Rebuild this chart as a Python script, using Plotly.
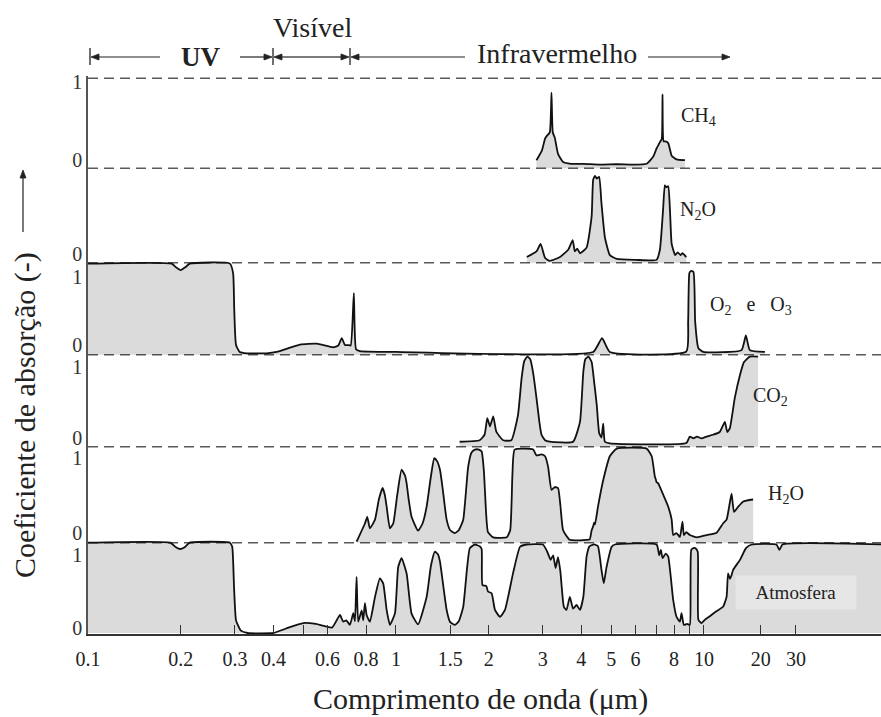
import math
import plotly.graph_objects as go

# ---------------- data: (wavelength in µm, absorption coefficient 0..1) ----------------
CH4 = [(2.86, 0.09), (2.98, 0.20), (3.05, 0.33), (3.09, 0.36), (3.16, 0.40), (3.20, 0.84),
       (3.23, 0.40), (3.28, 0.34), (3.36, 0.16), (3.49, 0.07), (3.70, 0.05), (4.06, 0.05),
       (4.59, 0.04), (5.21, 0.045), (5.90, 0.04), (6.52, 0.05), (6.85, 0.13), (7.02, 0.22),
       (7.20, 0.29), (7.30, 0.33), (7.34, 0.82), (7.40, 0.30), (7.50, 0.30), (7.66, 0.28),
       (7.86, 0.14), (8.15, 0.10), (8.68, 0.09)]

N2O = [(2.66, 0.06), (2.86, 0.12), (2.95, 0.20), (3.05, 0.05), (3.16, 0.02), (3.41, 0.06),
       (3.63, 0.14), (3.75, 0.24), (3.81, 0.12), (3.88, 0.15), (3.96, 0.10), (4.16, 0.16),
       (4.32, 0.49), (4.37, 0.88), (4.43, 0.92), (4.49, 0.89), (4.57, 0.91), (4.65, 0.63),
       (4.77, 0.27), (4.95, 0.08), (5.21, 0.04), (6.00, 0.03), (7.02, 0.03), (7.20, 0.14),
       (7.37, 0.56), (7.47, 0.82), (7.56, 0.80), (7.66, 0.81), (7.76, 0.56), (7.86, 0.20),
       (8.07, 0.08), (8.22, 0.11), (8.40, 0.08), (8.52, 0.10), (8.77, 0.06)]

O2_O3 = [(0.100, 0.99), (0.187, 0.99), (0.193, 0.95), (0.200, 0.92), (0.207, 0.95),
         (0.214, 0.99), (0.289, 0.99), (0.296, 0.885), (0.2985, 0.49), (0.3025, 0.105),
         (0.311, 0.03), (0.328, 0.015), (0.38, 0.015), (0.41, 0.03), (0.488, 0.11),
         (0.553, 0.12), (0.626, 0.08), (0.650, 0.10), (0.667, 0.18), (0.683, 0.105),
         (0.700, 0.105), (0.713, 0.10), (0.730, 0.67), (0.742, 0.06), (0.764, 0.04),
         (1.0, 0.03), (4.37, 0.03), (4.67, 0.18), (4.95, 0.03), (8.77, 0.035), (8.89, 0.36),
         (8.97, 0.885), (9.07, 0.91), (9.25, 0.90), (9.37, 0.36), (9.60, 0.07), (9.95, 0.03),
         (13.25, 0.05), (13.69, 0.21), (14.1, 0.05), (15.78, 0.03)]

CO2 = [(1.61, 0.054), (1.87, 0.07), (1.94, 0.13), (1.98, 0.31), (2.02, 0.22), (2.07, 0.33),
       (2.12, 0.16), (2.23, 0.07), (2.37, 0.07), (2.49, 0.34), (2.56, 0.75), (2.61, 0.93),
       (2.67, 0.98), (2.73, 0.95), (2.79, 0.80), (2.86, 0.53), (2.92, 0.28), (2.97, 0.13),
       (3.05, 0.07), (3.16, 0.054), (3.76, 0.054), (3.96, 0.27), (4.06, 0.815), (4.12, 0.95),
       (4.22, 0.98), (4.32, 0.92), (4.40, 0.71), (4.49, 0.45), (4.57, 0.15), (4.65, 0.10),
       (4.71, 0.25), (4.77, 0.054), (4.95, 0.037), (8.77, 0.04), (9.00, 0.11), (9.25, 0.09),
       (9.49, 0.11), (9.83, 0.09), (10.2, 0.11), (10.7, 0.13), (11.26, 0.16), (11.70, 0.27),
       (11.91, 0.16), (12.14, 0.20), (12.6, 0.53), (13.1, 0.78), (13.5, 0.92), (14.1, 0.98),
       (15.0, 0.98)]

H2O = [(0.745, 0.01), (0.793, 0.20), (0.807, 0.27), (0.823, 0.15), (0.855, 0.24), (0.88, 0.45),
       (0.905, 0.57), (0.92, 0.50), (0.933, 0.375), (0.956, 0.15), (0.98, 0.20), (1.01, 0.50),
       (1.043, 0.76), (1.07, 0.70), (1.083, 0.62), (1.10, 0.45), (1.124, 0.27), (1.18, 0.125),
       (1.22, 0.20), (1.258, 0.375), (1.30, 0.70), (1.332, 0.88), (1.36, 0.85), (1.39, 0.76),
       (1.42, 0.55), (1.461, 0.24), (1.50, 0.13), (1.554, 0.10), (1.60, 0.13), (1.654, 0.24),
       (1.716, 0.79), (1.76, 0.94), (1.805, 0.97), (1.86, 0.97), (1.898, 0.95), (1.93, 0.75),
       (1.945, 0.55), (1.99, 0.11), (2.07, 0.056), (2.29, 0.056), (2.35, 0.13), (2.39, 0.72),
       (2.43, 0.97), (2.79, 0.97), (2.86, 0.91), (2.97, 0.92), (3.05, 0.90), (3.12, 0.79),
       (3.20, 0.55), (3.28, 0.58), (3.36, 0.57), (3.42, 0.39), (3.49, 0.13), (3.67, 0.03),
       (4.16, 0.03), (4.26, 0.035), (4.32, 0.13), (4.37, 0.17), (4.40, 0.21), (4.43, 0.19),
       (4.53, 0.375), (4.71, 0.65), (4.95, 0.90), (5.21, 0.98), (6.52, 0.98), (6.77, 0.90),
       (6.93, 0.69), (6.98, 0.66), (7.02, 0.63), (7.10, 0.62), (7.20, 0.58), (7.47, 0.46),
       (7.66, 0.375), (7.86, 0.24), (7.95, 0.08), (8.15, 0.10), (8.36, 0.06), (8.52, 0.22),
       (8.61, 0.08), (8.77, 0.11), (9.00, 0.08), (9.49, 0.056), (10.2, 0.08), (10.97, 0.10),
       (11.54, 0.20), (11.85, 0.24), (12.08, 0.375), (12.3, 0.51), (12.53, 0.32),
       (12.93, 0.375), (13.43, 0.43), (14.45, 0.45)]

ATMOSFERA = [(0.10, 1.0), (0.185, 1.0), (0.193, 0.95), (0.199, 0.93), (0.206, 0.95),
             (0.214, 1.0), (0.289, 1.0), (0.294, 0.955), (0.298, 0.51), (0.3025, 0.14),
             (0.313, 0.03), (0.33, 0.0), (0.40, 0.0), (0.44, 0.05), (0.50, 0.11), (0.55, 0.10),
             (0.62, 0.06), (0.658, 0.20), (0.674, 0.125), (0.69, 0.14), (0.709, 0.09),
             (0.727, 0.22), (0.736, 0.13), (0.745, 0.62), (0.754, 0.125), (0.774, 0.25),
             (0.783, 0.14), (0.793, 0.33), (0.803, 0.20), (0.823, 0.125), (0.855, 0.40),
             (0.887, 0.605), (0.909, 0.55), (0.933, 0.255), (0.956, 0.09), (0.993, 0.22),
             (1.017, 0.73), (1.043, 0.83), (1.083, 0.66), (1.124, 0.215), (1.18, 0.095),
             (1.258, 0.40), (1.30, 0.75), (1.339, 0.90), (1.37, 0.87), (1.39, 0.79),
             (1.461, 0.255), (1.50, 0.12), (1.554, 0.09), (1.60, 0.13), (1.654, 0.29),
             (1.70, 0.70), (1.738, 0.94), (1.805, 0.98), (1.87, 0.96), (1.898, 0.93),
             (1.91, 0.53), (1.966, 0.52), (1.99, 0.46), (2.045, 0.44), (2.097, 0.255),
             (2.177, 0.18), (2.26, 0.255), (2.40, 0.66), (2.53, 0.955), (2.66, 0.98),
             (3.00, 0.98), (3.10, 0.90), (3.18, 0.81), (3.24, 0.86), (3.30, 0.72), (3.36, 0.84),
             (3.42, 0.68), (3.51, 0.29), (3.58, 0.255), (3.67, 0.40), (3.76, 0.27), (3.86, 0.31),
             (3.96, 0.255), (4.06, 0.40), (4.16, 0.845), (4.25, 0.96), (4.37, 0.98),
             (4.43, 0.98), (4.53, 0.96), (4.65, 0.70), (4.73, 0.55), (4.83, 0.73),
             (5.02, 0.955), (5.14, 0.98), (7.02, 0.98), (7.16, 0.86), (7.25, 0.92),
             (7.34, 0.83), (7.52, 0.88), (7.66, 0.845), (7.95, 0.365), (8.15, 0.18),
             (8.36, 0.125), (8.46, 0.22), (8.61, 0.09), (8.83, 0.10), (9.00, 0.09),
             (9.05, 0.50), (9.10, 0.92), (9.25, 0.94), (9.37, 0.94), (9.55, 0.90), (9.60, 0.145),
             (9.83, 0.11), (10.07, 0.145), (10.4, 0.18), (10.97, 0.24), (11.54, 0.29),
             (11.85, 0.40), (11.98, 0.66), (12.15, 0.60), (12.3, 0.64), (12.45, 0.70),
             (13.1, 0.81), (13.7, 0.94), (14.3, 0.98), (17.2, 0.98), (17.6, 0.92), (18.0, 0.98),
             (38.0, 0.98)]

# tick labels of the wavelength axis (the source figure draws "20" and "30"
# compressed beyond 10 µm; they are placed where the source draws them)
X_TICK_VALS = [0.1, 0.2, 0.3, 0.4, 0.6, 0.8, 1, 1.5, 2, 3, 4, 5, 6, 8, 10, 15.3, 19.9]
X_TICK_TEXT = ["0.1", "0.2", "0.3", "0.4", "0.6", "0.8", "1", "1.5", "2", "3", "4", "5",
               "6", "8", "10", "20", "30"]
X_MINOR_VALS = [0.5, 7, 9]

# ---------------- layout constants ----------------
W, H = 881, 717
ML, MR, MT, MB = 88, 0, 76, 83
PLOT_W, PLOT_H = W - ML - MR, H - MT - MB
FILL = "rgba(0,0,0,0.14)"
LINE = "#111111"
FONT = "Liberation Serif, DejaVu Serif, Times New Roman, serif"
TXT = "#222222"
SMOOTH = 0.45

# panel: (data, base level, height of value 1, show "1" tick, zero-label pad, one-label pad)
PANELS = [
    (CH4, 464.7, 90.0, True, 8, 4),
    (N2O, 370.3, 94.4, False, 9, 12),
    (O2_O3, 278.3, 92.0, True, 10, 14),
    (CO2, 186.3, 92.0, True, 9, 12),
    (H2O, 90.3, 96.0, True, 10, 11),
    (ATMOSFERA, 0.0, 90.3, True, 5, 12),
]
TOP_LINE = 554.7


def pxx(x):
    return (x - ML) / PLOT_W


def pxy(y):
    return (H - MB - y) / PLOT_H


fig = go.Figure()

ytick_vals, ytick_text = [], []
for data, base, hgt, show_one, zpad, opad in PANELS:
    wl = [p[0] for p in data]
    ys = [base + p[1] * hgt for p in data]
    fig.add_trace(go.Scatter(x=wl, y=[base] * len(wl), mode="lines",
                             line=dict(width=0), hoverinfo="skip"))
    fig.add_trace(go.Scatter(x=wl, y=ys, mode="lines", fill="tonexty", fillcolor=FILL,
                             line=dict(color=LINE, width=1.8, shape="spline",
                                       smoothing=SMOOTH),
                             hoverinfo="skip"))
    ytick_vals.append(base + zpad)
    ytick_text.append("0")
    if show_one:
        ytick_vals.append(base + hgt - opad)
        ytick_text.append("1")

# dashed separators
shapes = []
for lvl in [p[1] for p in PANELS[:-1]] + [TOP_LINE]:
    shapes.append(dict(type="line", xref="paper", yref="y", x0=0, x1=1, y0=lvl, y1=lvl,
                       line=dict(color="#5a5a5a", width=1.5, dash="10px,6px"), layer="below"))
# spectral-region bars at the top
for bx in [90, 273, 350]:
    shapes.append(dict(type="line", xref="paper", yref="paper", x0=pxx(bx), x1=pxx(bx),
                       y0=pxy(48), y1=pxy(65), line=dict(color=TXT, width=1.3)))


def arrow_shapes(hx, hy, tx, ty, size=8, half=3):
    """shaft + filled triangular head, given in pixel positions (head, tail)."""
    dx, dy = hx - tx, hy - ty
    n = math.hypot(dx, dy)
    ux, uy = dx / n, dy / n
    bx, by = hx - ux * size, hy - uy * size
    px_, py_ = -uy * half, ux * half
    pts = [(hx, hy), (bx + px_, by + py_), (bx - px_, by - py_)]
    path = "M " + " L ".join(f"{pxx(a):.5f},{pxy(b):.5f}" for a, b in pts) + " Z"
    return [
        dict(type="line", xref="paper", yref="paper", x0=pxx(tx), y0=pxy(ty),
             x1=pxx(bx), y1=pxy(by), line=dict(color=TXT, width=1.2)),
        dict(type="path", xref="paper", yref="paper", path=path, fillcolor=TXT,
             line=dict(color=TXT, width=0.8)),
    ]


for (hx, hy, tx, ty) in [(91, 57, 160, 57), (272, 57, 240, 57), (349, 57, 312, 57),
                         (274, 57, 312, 57), (351, 57, 465, 57), (730, 57, 648, 57),
                         (23, 170, 23, 232)]:
    shapes += arrow_shapes(hx, hy, tx, ty)


def label(text, x, y, size, **kw):
    d = dict(xref="paper", yref="paper", x=pxx(x), y=pxy(y), text=text, showarrow=False,
             xanchor="center", yanchor="middle", font=dict(family=FONT, size=size, color=TXT))
    d.update(kw)
    return d


ann = [
    label("<b>UV</b>", 200, 57, 27),
    label("Visível", 312, 27, 28),
    label("Infravermelho", 557, 53, 28),
    label("CH<sub>4</sub>", 698, 117, 20),
    label("N<sub>2</sub>O", 698, 210, 20),
    label("O<sub>2</sub>\u00a0\u00a0 e \u00a0\u00a0O<sub>3</sub>", 751, 305, 20),
    label("CO<sub>2</sub>", 770, 397, 20),
    label("H<sub>2</sub>O", 786, 494, 20),
    label("Atmosfera", 796, 592, 19, bgcolor="#e6e6e6", width=118, height=31),
    label("Comprimento de onda (μm)", 480, 699, 30),
    label("Coeficiente de absorção (-)", 25, 415, 30, textangle=-90),
]

fig.update_layout(
    width=W, height=H, margin=dict(l=ML, r=MR, t=MT, b=MB, pad=0),
    paper_bgcolor="white", plot_bgcolor="white", showlegend=False,
    shapes=shapes, annotations=ann,
    font=dict(family=FONT, color=TXT),
)
fig.update_xaxes(type="log", range=[-1, math.log10(37.6)], showgrid=False, zeroline=False,
                 showline=True, linecolor="#333333", linewidth=1.5, ticks="inside", ticklen=9,
                 tickwidth=1.3, tickcolor="#333333", tickmode="array", tickvals=X_TICK_VALS,
                 ticktext=X_TICK_TEXT, tickfont=dict(family=FONT, size=20, color=TXT),
                 ticklabelstandoff=6,
                 minor=dict(tickmode="array", tickvals=X_MINOR_VALS, ticks="inside",
                            ticklen=9, tickwidth=1.3, tickcolor="#333333", showgrid=False))
fig.update_yaxes(range=[-1, 557], showgrid=False, zeroline=False, showline=True,
                 linecolor="#555555", linewidth=1.5, ticks="", tickmode="array",
                 tickvals=ytick_vals, ticktext=ytick_text,
                 tickfont=dict(family=FONT, size=20, color="#333333"))

fig.write_html("out.html")
